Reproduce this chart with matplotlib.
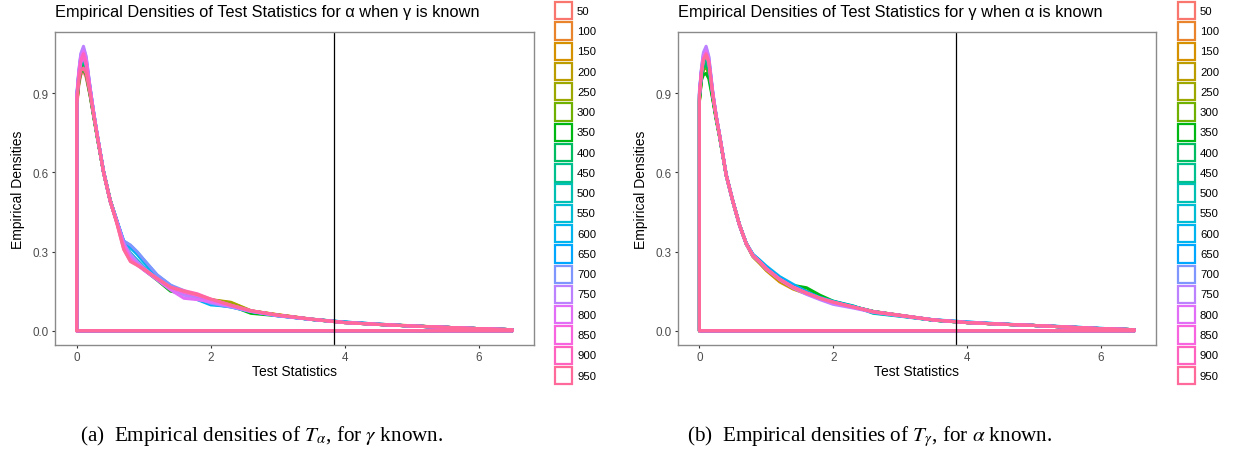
import math
import numpy as np
import matplotlib
matplotlib.use("Agg")
import matplotlib.pyplot as plt
from matplotlib.patches import Rectangle

plt.rcParams['font.family'] = ['Liberation Sans', 'DejaVu Sans']
plt.rcParams['mathtext.fontset'] = 'stix'

# ---------------- data ----------------
SAMPLE_SIZES = [50, 100, 150, 200, 250, 300, 350, 400, 450, 500,
                550, 600, 650, 700, 750, 800, 850, 900, 950]

X_GRID = [0, 0.03, 0.06, 0.1, 0.14, 0.2, 0.25, 0.3, 0.4, 0.5, 0.6, 0.7, 0.8, 0.9, 1.0,
          1.2, 1.4, 1.6, 1.8, 2.0, 2.3, 2.6, 3.0, 3.5, 4.0, 4.5, 5.0, 5.5, 6.0, 6.5]

CRIT_VALUE = 3.84

# Panel (a): densities of T_alpha, gamma known
DENS_A = [
    [0.85,0.93,0.97,0.985,0.96,0.89,0.815,0.745,0.605,0.495,0.415,0.33,0.285,0.258,0.236,0.195,0.163,0.142,0.128,0.116,0.096,0.075,0.059,0.044,0.031,0.024,0.018,0.013,0.008,0.004],
    [0.86,0.94,0.985,1.0,0.975,0.895,0.82,0.745,0.60,0.49,0.412,0.328,0.283,0.256,0.234,0.197,0.166,0.143,0.127,0.115,0.095,0.074,0.060,0.043,0.031,0.024,0.018,0.013,0.008,0.004],
    [0.87,0.955,1.0,1.02,0.99,0.90,0.82,0.745,0.60,0.495,0.415,0.325,0.281,0.255,0.233,0.196,0.164,0.144,0.129,0.117,0.097,0.075,0.061,0.044,0.032,0.025,0.019,0.013,0.008,0.004],
    [0.86,0.95,0.995,1.01,0.985,0.90,0.82,0.745,0.60,0.49,0.412,0.327,0.282,0.256,0.234,0.197,0.163,0.143,0.128,0.118,0.108,0.076,0.060,0.043,0.031,0.024,0.018,0.013,0.008,0.004],
    [0.87,0.96,1.01,1.03,1.0,0.905,0.825,0.748,0.605,0.495,0.414,0.326,0.28,0.255,0.233,0.196,0.165,0.144,0.128,0.117,0.106,0.075,0.059,0.044,0.032,0.024,0.018,0.013,0.008,0.004],
    [0.86,0.945,0.99,1.0,0.98,0.895,0.82,0.745,0.60,0.49,0.41,0.325,0.281,0.255,0.233,0.195,0.162,0.142,0.127,0.116,0.096,0.073,0.058,0.043,0.031,0.024,0.018,0.013,0.008,0.004],
    [0.86,0.94,0.98,0.99,0.97,0.89,0.815,0.74,0.60,0.49,0.41,0.325,0.28,0.254,0.232,0.192,0.150,0.14,0.127,0.115,0.095,0.066,0.057,0.043,0.032,0.024,0.018,0.013,0.008,0.004],
    [0.87,0.955,1.0,1.02,0.99,0.90,0.82,0.745,0.60,0.49,0.412,0.327,0.283,0.256,0.234,0.196,0.164,0.143,0.128,0.116,0.096,0.074,0.059,0.043,0.031,0.024,0.018,0.013,0.008,0.004],
    [0.88,0.965,1.015,1.04,1.01,0.91,0.825,0.748,0.602,0.492,0.413,0.328,0.284,0.257,0.235,0.197,0.165,0.143,0.128,0.116,0.095,0.074,0.058,0.044,0.032,0.024,0.018,0.013,0.008,0.004],
    [0.875,0.96,1.01,1.03,1.0,0.905,0.822,0.746,0.60,0.49,0.412,0.33,0.287,0.26,0.237,0.198,0.166,0.144,0.127,0.114,0.094,0.074,0.058,0.043,0.031,0.024,0.018,0.013,0.008,0.004],
    [0.88,0.97,1.025,1.05,1.02,0.915,0.828,0.75,0.602,0.492,0.415,0.335,0.295,0.268,0.242,0.2,0.167,0.144,0.126,0.112,0.093,0.074,0.058,0.043,0.032,0.024,0.018,0.013,0.008,0.004],
    [0.885,0.975,1.035,1.06,1.025,0.915,0.83,0.75,0.603,0.492,0.415,0.338,0.315,0.29,0.26,0.205,0.17,0.142,0.118,0.098,0.092,0.074,0.057,0.044,0.033,0.025,0.018,0.013,0.008,0.004],
    [0.88,0.97,1.03,1.05,1.02,0.915,0.83,0.75,0.603,0.492,0.415,0.34,0.322,0.298,0.268,0.21,0.172,0.145,0.12,0.102,0.09,0.073,0.057,0.043,0.033,0.025,0.018,0.013,0.008,0.004],
    [0.89,0.98,1.045,1.07,1.035,0.92,0.832,0.752,0.604,0.493,0.416,0.34,0.325,0.30,0.27,0.212,0.173,0.152,0.125,0.104,0.09,0.073,0.056,0.043,0.032,0.025,0.018,0.013,0.008,0.004],
    [0.895,0.985,1.05,1.078,1.04,0.92,0.832,0.752,0.603,0.492,0.414,0.332,0.29,0.262,0.238,0.198,0.163,0.135,0.12,0.108,0.092,0.074,0.058,0.043,0.031,0.024,0.018,0.013,0.008,0.004],
    [0.885,0.975,1.035,1.06,1.025,0.915,0.83,0.75,0.60,0.49,0.41,0.325,0.275,0.25,0.23,0.193,0.155,0.123,0.118,0.11,0.094,0.074,0.058,0.043,0.031,0.024,0.018,0.013,0.008,0.004],
    [0.875,0.965,1.015,1.04,1.005,0.905,0.825,0.748,0.60,0.49,0.41,0.322,0.272,0.25,0.232,0.197,0.163,0.145,0.133,0.118,0.096,0.075,0.059,0.044,0.031,0.024,0.018,0.013,0.008,0.004],
    [0.88,0.97,1.025,1.05,1.015,0.91,0.826,0.748,0.60,0.49,0.405,0.31,0.265,0.25,0.234,0.198,0.165,0.152,0.14,0.12,0.097,0.076,0.059,0.044,0.031,0.024,0.018,0.013,0.008,0.004],
    [0.86,0.945,0.985,0.995,0.975,0.895,0.82,0.745,0.60,0.49,0.405,0.308,0.262,0.248,0.233,0.198,0.165,0.15,0.137,0.12,0.097,0.076,0.059,0.044,0.031,0.024,0.018,0.013,0.008,0.004],
]

# Panel (b): densities of T_gamma, alpha known
DENS_B = [
    [0.88,0.965,1.005,1.02,0.99,0.885,0.808,0.74,0.59,0.49,0.40,0.33,0.285,0.262,0.235,0.195,0.165,0.142,0.123,0.108,0.09,0.072,0.058,0.041,0.031,0.025,0.02,0.014,0.008,0.004],
    [0.875,0.96,0.995,1.01,0.985,0.885,0.808,0.74,0.59,0.49,0.40,0.33,0.285,0.26,0.234,0.194,0.164,0.143,0.124,0.109,0.091,0.073,0.058,0.040,0.031,0.025,0.02,0.014,0.008,0.004],
    [0.87,0.955,0.99,1.0,0.975,0.88,0.805,0.738,0.59,0.488,0.398,0.328,0.28,0.255,0.228,0.185,0.158,0.14,0.122,0.107,0.089,0.072,0.058,0.040,0.031,0.025,0.02,0.014,0.008,0.004],
    [0.88,0.965,1.005,1.02,0.99,0.885,0.808,0.74,0.59,0.49,0.40,0.33,0.282,0.258,0.231,0.19,0.161,0.142,0.124,0.109,0.091,0.073,0.058,0.041,0.031,0.025,0.02,0.014,0.008,0.004],
    [0.885,0.97,1.015,1.03,1.0,0.89,0.81,0.74,0.59,0.49,0.40,0.33,0.284,0.26,0.234,0.193,0.164,0.145,0.125,0.11,0.091,0.073,0.059,0.041,0.031,0.025,0.02,0.014,0.008,0.004],
    [0.875,0.96,0.99,1.0,0.975,0.88,0.805,0.738,0.59,0.49,0.40,0.33,0.285,0.262,0.236,0.196,0.167,0.15,0.128,0.11,0.09,0.072,0.058,0.040,0.031,0.025,0.02,0.014,0.008,0.004],
    [0.87,0.95,0.97,0.975,0.955,0.875,0.80,0.735,0.588,0.488,0.40,0.33,0.285,0.262,0.236,0.198,0.172,0.163,0.135,0.112,0.09,0.072,0.058,0.040,0.031,0.025,0.02,0.014,0.008,0.004],
    [0.88,0.962,1.0,1.01,0.985,0.885,0.806,0.74,0.59,0.49,0.40,0.33,0.286,0.263,0.237,0.197,0.168,0.148,0.126,0.11,0.091,0.072,0.057,0.040,0.031,0.025,0.02,0.014,0.008,0.004],
    [0.885,0.97,1.015,1.03,1.0,0.89,0.81,0.74,0.59,0.49,0.40,0.33,0.286,0.263,0.237,0.198,0.169,0.146,0.125,0.111,0.093,0.068,0.056,0.040,0.031,0.025,0.02,0.014,0.008,0.004],
    [0.89,0.975,1.025,1.04,1.01,0.895,0.812,0.742,0.59,0.49,0.40,0.33,0.286,0.263,0.237,0.198,0.169,0.145,0.126,0.112,0.094,0.066,0.055,0.040,0.031,0.025,0.02,0.014,0.008,0.004],
    [0.895,0.98,1.03,1.05,1.02,0.895,0.812,0.742,0.59,0.49,0.40,0.33,0.287,0.265,0.24,0.2,0.17,0.145,0.124,0.11,0.092,0.073,0.058,0.041,0.032,0.025,0.02,0.014,0.008,0.004],
    [0.9,0.985,1.04,1.06,1.025,0.9,0.815,0.744,0.592,0.492,0.40,0.332,0.29,0.268,0.245,0.205,0.176,0.148,0.125,0.109,0.09,0.072,0.057,0.042,0.033,0.026,0.02,0.015,0.009,0.004],
    [0.895,0.98,1.035,1.05,1.02,0.895,0.812,0.742,0.59,0.49,0.40,0.33,0.287,0.265,0.24,0.2,0.172,0.147,0.124,0.108,0.09,0.072,0.057,0.041,0.033,0.026,0.02,0.015,0.009,0.004],
    [0.905,0.99,1.05,1.07,1.035,0.9,0.815,0.744,0.592,0.49,0.40,0.33,0.286,0.262,0.236,0.196,0.166,0.143,0.122,0.107,0.089,0.071,0.057,0.041,0.032,0.025,0.02,0.014,0.008,0.004],
    [0.91,0.995,1.055,1.078,1.04,0.905,0.816,0.744,0.59,0.488,0.398,0.328,0.283,0.26,0.233,0.193,0.162,0.138,0.118,0.1,0.086,0.07,0.057,0.040,0.031,0.025,0.02,0.014,0.008,0.004],
    [0.9,0.985,1.04,1.06,1.025,0.9,0.814,0.743,0.59,0.49,0.40,0.33,0.285,0.261,0.235,0.195,0.165,0.142,0.122,0.106,0.089,0.072,0.059,0.041,0.031,0.025,0.02,0.014,0.008,0.004],
    [0.895,0.98,1.03,1.05,1.02,0.895,0.812,0.742,0.59,0.49,0.40,0.33,0.285,0.262,0.235,0.195,0.165,0.143,0.123,0.108,0.09,0.072,0.058,0.041,0.031,0.025,0.02,0.014,0.008,0.004],
    [0.895,0.98,1.03,1.05,1.02,0.895,0.812,0.742,0.59,0.49,0.40,0.33,0.285,0.262,0.235,0.195,0.165,0.143,0.124,0.109,0.09,0.072,0.058,0.041,0.031,0.025,0.02,0.014,0.008,0.004],
    [0.89,0.975,1.025,1.045,1.015,0.892,0.81,0.741,0.59,0.49,0.40,0.33,0.285,0.262,0.235,0.195,0.165,0.143,0.123,0.108,0.09,0.072,0.058,0.041,0.031,0.025,0.02,0.014,0.008,0.004],
]

X_TICKS = [0, 2, 4, 6]
Y_TICKS = [0.0, 0.3, 0.6, 0.9]
TITLES = ["Empirical Densities of Test Statistics for \u03b1 when \u03b3 is known",
          "Empirical Densities of Test Statistics for \u03b3 when \u03b1 is known"]
CAPTIONS = [r"(a)  Empirical densities of $T_{\alpha}$, for $\gamma$ known.",
            r"(b)  Empirical densities of $T_{\gamma}$, for $\alpha$ known."]
XLABEL = "Test Statistics"
YLABEL = "Empirical Densities"


# ---------------- ggplot hue palette ----------------
def hcl_hex(h, c=100.0, l=65.0):
    hr = math.radians(h)
    u, v = c * math.cos(hr), c * math.sin(hr)
    Xn, Yn, Zn = 95.047, 100.0, 108.883
    Y = Yn * ((l + 16) / 116) ** 3
    den = Xn + 15 * Yn + 3 * Zn
    un, vn = 4 * Xn / den, 9 * Yn / den
    up, vp = u / (13 * l) + un, v / (13 * l) + vn
    X = Y * 9 * up / (4 * vp)
    Z = Y * (12 - 3 * up - 20 * vp) / (4 * vp)
    X, Y, Z = X / 100, Y / 100, Z / 100
    r = 3.240479 * X - 1.537150 * Y - 0.498535 * Z
    g = -0.969256 * X + 1.875992 * Y + 0.041556 * Z
    b = 0.055648 * X - 0.204043 * Y + 1.057311 * Z
    def gam(t):
        t = 12.92 * t if t <= 0.0031308 else 1.055 * t ** (1 / 2.4) - 0.055
        return min(max(t, 0.0), 1.0)
    return (gam(r), gam(g), gam(b))


n = len(SAMPLE_SIZES)
hues = np.linspace(15, 375, n + 1)[:n]
COLORS = [hcl_hex(h) for h in hues]

W, H = 1235, 452
fig = plt.figure(figsize=(W / 100, H / 100), dpi=100)
fig.patch.set_facecolor("white")

panels = [
    dict(left=55, right=534, data=DENS_A, leg_x=555),
    dict(left=677.7, right=1156, data=DENS_B, leg_x=1178),
]
top_px, bot_px = 33, 346
cap_centers = [262, 870]

xg = np.array(X_GRID)
for k, p in enumerate(panels):
    ax = fig.add_axes([p["left"] / W, 1 - bot_px / H,
                       (p["right"] - p["left"]) / W, (bot_px - top_px) / H])
    for i, dens in enumerate(p["data"]):
        d = np.array(dens)
        xs = np.concatenate([[xg[0]], xg, [xg[-1], xg[0]]])
        ys = np.concatenate([[0.0], d, [0.0, 0.0]])
        ax.plot(xs, ys, color=COLORS[i], lw=2.2, solid_joinstyle="round",
                solid_capstyle="round")
    ax.axvline(CRIT_VALUE, color="black", lw=0.9)
    ax.set_xlim(-0.325, 6.825)
    ax.set_ylim(-0.054, 1.132)
    ax.set_xticks(X_TICKS)
    ax.set_xticklabels([str(t) for t in X_TICKS])
    ax.set_yticks(Y_TICKS)
    ax.set_yticklabels(["%.1f" % t for t in Y_TICKS])
    ax.tick_params(axis="both", length=2.5, width=0.8, color="#333333",
                   labelcolor="#4D4D4D", labelsize=8.4, pad=2)
    for s in ax.spines.values():
        s.set_color("#8A8A8A")
        s.set_linewidth(1.0)

    cx = (p["left"] + p["right"]) / 2
    fig.text(p["left"] / W, 1 - 17.5 / H, TITLES[k], fontsize=11.8,
             ha="left", va="baseline", color="black")
    fig.text(cx / W, 1 - 372.5 / H, XLABEL, fontsize=10,
             ha="center", va="center", color="black")
    fig.text((p["left"] - 37) / W, 1 - 189.5 / H, YLABEL, fontsize=10,
             rotation=90, ha="center", va="center", color="black")
    fig.text(cap_centers[k] / W, 1 - 441.5 / H, CAPTIONS[k], fontsize=15.2,
             family="Liberation Serif", ha="center", va="baseline")

    # legend
    for i, lab in enumerate(SAMPLE_SIZES):
        cy = 11.7 + 20.27 * i
        rect = Rectangle(((p["leg_x"]) / W, 1 - (cy + 8.7) / H), 17.4 / W, 17.4 / H,
                         transform=fig.transFigure, facecolor="white",
                         edgecolor=COLORS[i], lw=1.6)
        fig.add_artist(rect)
        fig.text((p["leg_x"] + 22) / W, 1 - cy / H, str(lab), fontsize=8.2,
                 ha="left", va="center", color="black")

fig.savefig("out.png", dpi=100, facecolor="white")
